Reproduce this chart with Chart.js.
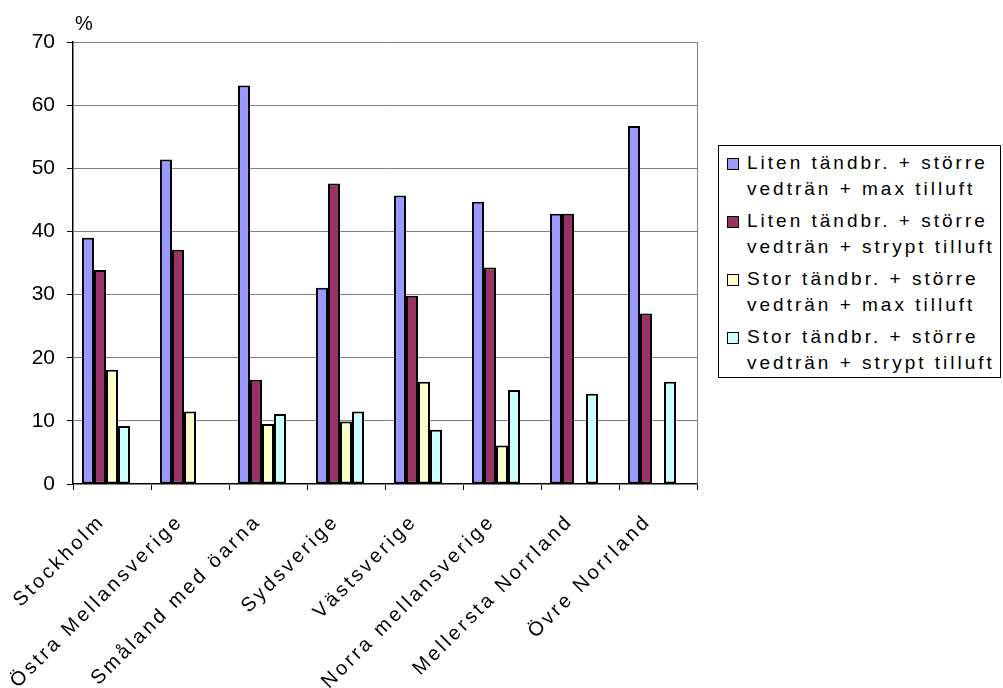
<!DOCTYPE html>
<html>
<head>
<meta charset="utf-8">
<script src="https://cdn.jsdelivr.net/npm/chart.js@4"></script>
<style>
    body { margin: 0; background: #fff; }
    #wrap { position: relative; width: 1003px; height: 688px; }
    #legend {
        position: absolute; left: 718px; top: 145px; width: 283px; height: 233px;
        border: 1px solid #000; box-sizing: border-box; background: #fff;
        font-family: "Liberation Sans", Arial, sans-serif; font-size: 19px;
        letter-spacing: 3px; color: #000; padding-top: 4px; white-space: nowrap;
    }
    .item { position: relative; padding-left: 28px; line-height: 26px; margin-bottom: 6px; }
    .box { position: absolute; left: 8px; top: 8px; width: 10px; height: 10px; border: 1px solid #000; }
</style>
</head>
<body>
<div id="wrap">
    <canvas id="myChart"></canvas>
    <div id="legend"></div>
</div>
<script>
const regions = ["Stockholm", "Östra Mellansverige", "Småland med öarna", "Sydsverige",
    "Västsverige", "Norra mellansverige", "Mellersta Norrland", "Övre Norrland"];
const litenMax = [39.0, 51.4, 63.1, 31.1, 45.7, 44.7, 42.8, 56.7];
const litenStrypt = [33.9, 37.1, 16.5, 47.6, 29.8, 34.3, 42.8, 27.0];
const storMax = [18.1, 11.5, 9.5, 9.9, 16.2, 6.1, null, null];
const storStrypt = [9.2, null, 11.1, 11.5, 8.6, 14.9, 14.3, 16.2];
const yTicks = [0, 10, 20, 30, 40, 50, 60, 70];

const seriesNames = [
    ["Liten tändbr. + större", "vedträn + max tilluft"],
    ["Liten tändbr. + större", "vedträn + strypt tilluft"],
    ["Stor tändbr. + större", "vedträn + max tilluft"],
    ["Stor tändbr. + större", "vedträn + strypt tilluft"]
];
const colors = ["#9999FF", "#993366", "#FFFFCC", "#CCFFFF"];

// spacer keeps the groups shifted left like the original
const spacer = regions.map(function () { return null; });

const FONT = "'Liberation Sans', Arial, sans-serif";

const extras = {
    id: "extras",
    beforeUpdate: function (chart) { chart.ctx.letterSpacing = "3px"; },
    beforeLayout: function (chart) {
        // y labels are drawn without the extra spacing
        const y = chart.scales.y;
        if (y && !y._plain) {
            const orig = y.draw;
            y.draw = function (area) {
                const c = this.ctx;
                const prev = c.letterSpacing;
                c.letterSpacing = "0px";
                orig.call(this, area);
                c.letterSpacing = prev;
            };
            y._plain = true;
        }
    },
    beforeDraw: function (chart) { chart.ctx.letterSpacing = "3px"; },
    afterDraw: function (chart) {
        const ctx = chart.ctx;
        const a = chart.chartArea;
        ctx.save();
        ctx.strokeStyle = "#808080";
        ctx.lineWidth = 1;
        ctx.beginPath();
        ctx.moveTo(Math.round(a.right) + 0.5, a.top);
        ctx.lineTo(Math.round(a.right) + 0.5, a.bottom);
        ctx.stroke();
        ctx.letterSpacing = "0px";
        ctx.fillStyle = "#000";
        ctx.font = "20px " + FONT;
        ctx.fillText("%", 75, 30);
        ctx.restore();
    }
};

const datasets = [litenMax, litenStrypt, storMax, storStrypt].map(function (d, i) {
    return {
        label: seriesNames[i].join(" "),
        data: d,
        backgroundColor: colors[i],
        borderColor: "#000",
        borderWidth: 2,
        borderSkipped: false
    };
});
datasets.push({ label: "", data: spacer });

new Chart("myChart", {
    type: "bar",
    data: { labels: regions, datasets: datasets },
    options: {
        responsive: true,
        maintainAspectRatio: false,
        animation: false,
        datasets: { bar: { categoryPercentage: 0.77, barPercentage: 1 } },
        layout: { padding: { top: 42, right: 306, left: 0, bottom: 0 } },
        plugins: {
            legend: { display: false },
            tooltip: { enabled: false }
        },
        scales: {
            x: {
                afterFit: function (s) { s.height = 204; },
                border: { color: "#000", width: 1.5 },
                grid: { drawOnChartArea: false, offset: true, tickLength: 6, tickColor: "#000" },
                ticks: {
                    maxRotation: 45, minRotation: 45, padding: 20, labelOffset: -10,
                    color: "#000",
                    font: { family: FONT, size: 20 }
                }
            },
            y: {
                min: 0, max: 70,
                afterFit: function (s) { s.width = 73; },
                afterBuildTicks: function (s) { s.ticks = yTicks.map(function (v) { return { value: v }; }); },
                border: { color: "#000", width: 1.5 },
                grid: { color: "#808080", lineWidth: 1, tickLength: 6, tickColor: "#000" },
                ticks: {
                    padding: 12, color: "#000",
                    font: { family: FONT, size: 21 }
                }
            }
        }
    },
    plugins: [extras]
});

// legend built from the series names
let html = "";
seriesNames.forEach(function (n, i) {
    html += '<div class="item"><span class="box" style="background:' + colors[i] + '"></span>' +
        n[0] + '<br>' + n[1] + '</div>';
});
document.getElementById("legend").innerHTML = html;
</script>
</body>
</html>
